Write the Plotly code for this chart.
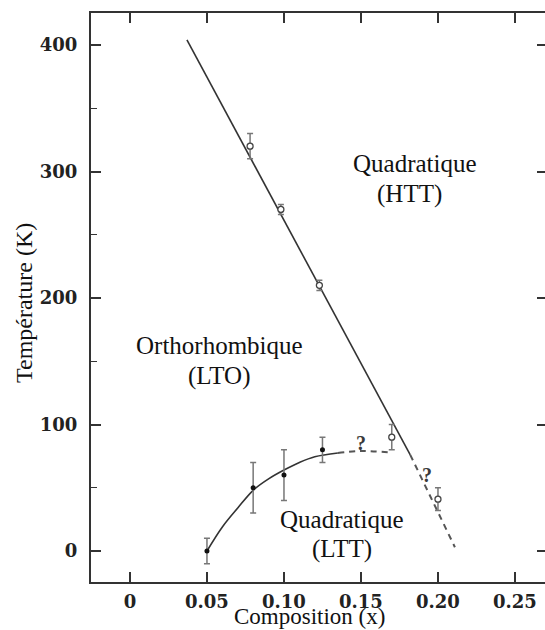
import plotly.graph_objects as go

# ---- data ----
# HTT points (open circles) with error bars
htt_x = [0.078, 0.098, 0.123, 0.170, 0.200]
htt_y = [320, 270, 210, 90, 41]
htt_err = [10, 4, 4, 10, 9]

# LTT points (filled dots) with error bars
ltt_x = [0.05, 0.08, 0.10, 0.125]
ltt_y = [0, 50, 60, 80]
ltt_err = [10, 20, 20, 10]

# LTO/HTT boundary (solid then dashed)
bnd_x = [0.037, 0.182]
bnd_y = [404, 76]
bnd_dash_x = [0.182, 0.211]
bnd_dash_y = [76, 3]

# LTO/LTT boundary (solid curve then dashed)
ltt_curve_x = [0.05, 0.06, 0.07, 0.08, 0.09, 0.10, 0.11, 0.12, 0.135]
ltt_curve_y = [0, 19, 34, 48, 57, 64, 70, 74.5, 77.5]
ltt_dash_x = [0.135, 0.15, 0.168]
ltt_dash_y = [77.5, 79, 78]

x_ticks = [0, 0.05, 0.10, 0.15, 0.20, 0.25]
x_labels = ["0", "0.05", "0.10", "0.15", "0.20", "0.25"]
y_ticks = [0, 100, 200, 300, 400]
y_minor = [50, 150, 250, 350]

region_labels = [
    ("Quadratique", 0.185, 306),
    ("(HTT)", 0.1815, 282),
    ("Orthorhombique", 0.0581, 162.5),
    ("(LTO)", 0.0581, 138.7),
    ("Quadratique", 0.1377, 25),
    ("(LTT)", 0.1377, 1.2),
]
question_marks = [(0.1498, 85), (0.1927, 60)]

X_RANGE = [-0.0253, 0.2695]
Y_RANGE = [-24.5, 425.3]

LINE = "#333333"
SERIF = "Liberation Serif"

fig = go.Figure()

fig.add_trace(go.Scatter(x=bnd_x, y=bnd_y, mode="lines",
                         line=dict(color=LINE, width=1.6), hoverinfo="skip"))
fig.add_trace(go.Scatter(x=bnd_dash_x, y=bnd_dash_y, mode="lines",
                         line=dict(color="#555555", width=2, dash="6px,5px"), hoverinfo="skip"))
fig.add_trace(go.Scatter(x=ltt_curve_x, y=ltt_curve_y, mode="lines",
                         line=dict(color=LINE, width=1.6, shape="spline", smoothing=1.0),
                         hoverinfo="skip"))
fig.add_trace(go.Scatter(x=ltt_dash_x, y=ltt_dash_y, mode="lines",
                         line=dict(color="#555555", width=2, dash="6px,5px", shape="spline"),
                         hoverinfo="skip"))

fig.add_trace(go.Scatter(
    x=ltt_x, y=ltt_y, mode="markers",
    marker=dict(color="#111111", size=5),
    error_y=dict(type="data", array=ltt_err, visible=True, color="#777777",
                 thickness=1.5, width=3),
))
fig.add_trace(go.Scatter(
    x=htt_x, y=htt_y, mode="markers",
    marker=dict(color="white", size=6, line=dict(color="#444444", width=1.3)),
    error_y=dict(type="data", array=htt_err, visible=True, color="#777777",
                 thickness=1.5, width=3),
))

# invisible trace for the right-side tick axis
fig.add_trace(go.Scatter(x=[X_RANGE[0]], y=[Y_RANGE[0]], yaxis="y2", mode="markers",
                         marker=dict(opacity=0), hoverinfo="skip"))

annotations = []
for text, x, y in region_labels:
    annotations.append(dict(x=x, y=y, xref="x", yref="y", text=text, showarrow=False,
                            font=dict(family=SERIF, size=25, color="#111111"),
                            xanchor="center", yanchor="middle"))
for x, y in question_marks:
    annotations.append(dict(x=x, y=y, xref="x", yref="y", text="?", showarrow=False,
                            font=dict(family=SERIF, size=20, color="#3a3a3a", weight="bold"),
                            xanchor="center", yanchor="middle"))
annotations.append(dict(x=0.482, y=-0.061, xref="paper", yref="paper",
                        text="Composition (x)", showarrow=False,
                        font=dict(family=SERIF, size=23, color="#111111"),
                        xanchor="center", yanchor="middle"))
annotations.append(dict(x=-0.148, y=0.490, xref="paper", yref="paper",
                        text="Température (K)", showarrow=False, textangle=-90,
                        font=dict(family=SERIF, size=24, color="#111111"),
                        xanchor="center", yanchor="middle"))

tickfont = dict(family="DejaVu Serif", size=18, color="#222222", weight="bold")

fig.update_layout(
    width=545, height=630,
    margin=dict(l=91, r=0, t=13, b=48, autoexpand=False),
    paper_bgcolor="white", plot_bgcolor="white",
    showlegend=False,
    annotations=annotations,
    xaxis=dict(range=X_RANGE, tickvals=x_ticks, ticktext=x_labels,
               ticks="inside", ticklen=10, tickwidth=1.5, tickcolor=LINE,
               showline=True, linecolor=LINE, linewidth=2, mirror="ticks",
               showgrid=False, zeroline=False, tickfont=tickfont,
               ticklabelstandoff=2, automargin=False),
    yaxis=dict(range=Y_RANGE, tickvals=y_ticks,
               ticks="inside", ticklen=10, tickwidth=1.5, tickcolor=LINE,
               minor=dict(tickvals=y_minor, ticks="inside", ticklen=6,
                          tickwidth=1.2, tickcolor=LINE, showgrid=False),
               showline=True, linecolor=LINE, linewidth=2, mirror=False,
               showgrid=False, zeroline=False, tickfont=tickfont,
               ticklabelstandoff=8, automargin=False),
    yaxis2=dict(range=Y_RANGE, overlaying="y", side="right", anchor="x",
                tickvals=y_ticks, ticks="inside", ticklen=8, tickwidth=1.5,
                tickcolor=LINE, showticklabels=False, showline=False,
                showgrid=False, zeroline=False, automargin=False),
)

fig.write_html(
    "out.html",
    config={"displayModeBar": False},
    post_script=("document.documentElement.style.overflow='hidden';"
                 "document.body.style.margin='0';"
                 "document.body.style.overflow='hidden';"),
)
